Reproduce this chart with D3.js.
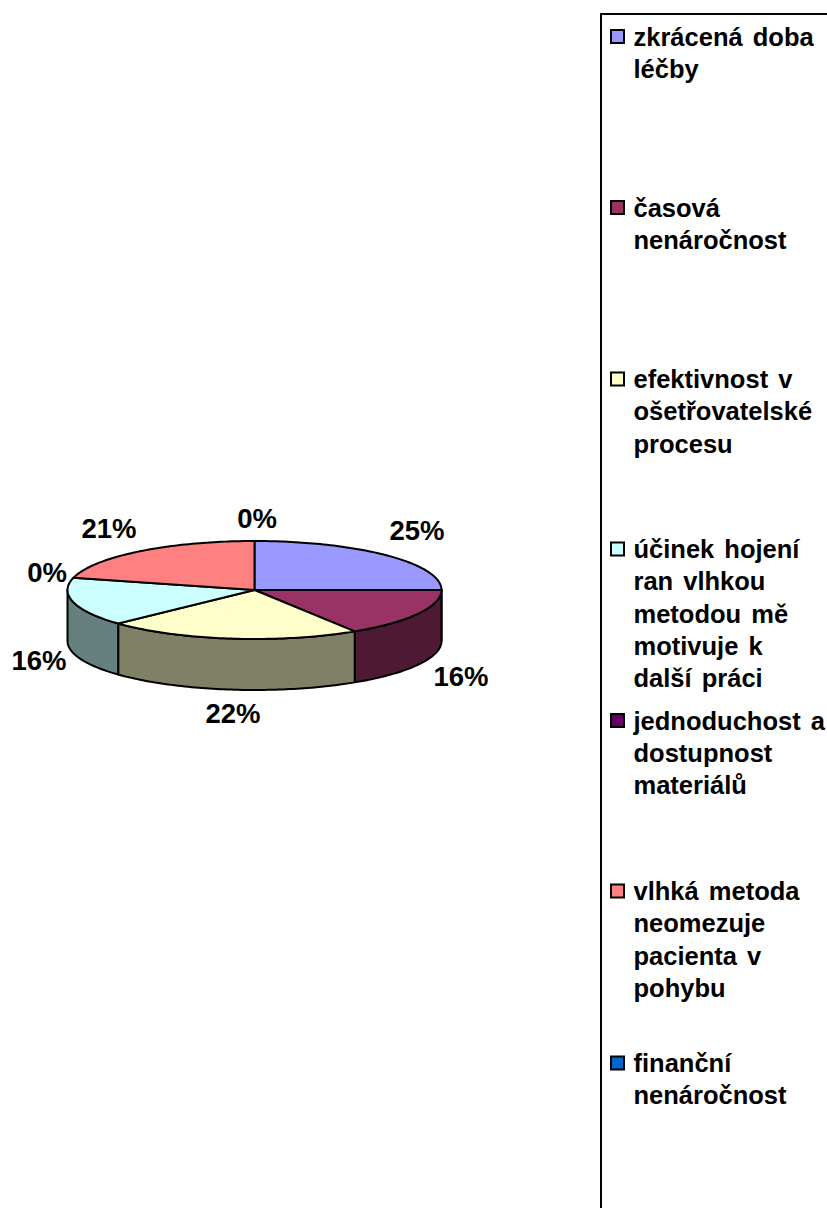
<!DOCTYPE html>
<html>
<head>
<meta charset="utf-8">
<script src="https://cdn.jsdelivr.net/npm/d3@7"></script>
<style>
html,body{margin:0;padding:0;background:#fff}
svg{display:block}
text{font-family:"Liberation Sans",Arial,sans-serif;font-weight:bold;fill:#000}
</style>
</head>
<body>
<svg id="chart" width="827" height="1208"></svg>
<script>
// Survey answers, in legend order
const categories = [
  ["zkrácená doba", "léčby"],
  ["časová", "nenáročnost"],
  ["efektivnost v", "ošetřovatelské", "procesu"],
  ["účinek hojení", "ran vlhkou", "metodou mě", "motivuje k", "další práci"],
  ["jednoduchost a", "dostupnost", "materiálů"],
  ["vlhká metoda", "neomezuje", "pacienta v", "pohybu"],
  ["finanční", "nenáročnost"]
];
const shares = [25, 16, 22, 16, 0, 21, 0];
const topColors = ["#9999ff", "#993366", "#ffffcc", "#ccffff", "#660066", "#ff8080", "#0066cc"];
const sideColors = ["#4d4d80", "#4d1933", "#808066", "#668080", "#330033", "#804040", "#003366"];
const legendCentres = [36.5, 207.5, 379, 549, 720.5, 891, 1063];
const labelAnchors = [[417, 540], [461, 686], [233, 723], [39, 670], [47, 582], [109, 538], [257, 528]];

const svg = d3.select("#chart");
const cx = 254.5, cy = 590, rx = 187, ry = 49, depth = 51;

const slices = d3.pie().sort(null).value(d => d).startAngle(0).endAngle(2 * Math.PI)(shares);

// Ellipse point for a pie angle measured clockwise from twelve o'clock
const sx = d3.scaleLinear().domain([-1, 1]).range([cx - rx, cx + rx]);
const sy = d3.scaleLinear().domain([-1, 1]).range([cy - ry, cy + ry]);
const rim = (a, drop = 0) => [sx(Math.sin(a)), sy(-Math.cos(a)) + drop];
const line = d3.line();

function rimPoints(a0, a1, drop) {
  const n = Math.max(2, Math.ceil(Math.abs(a1 - a0) / 0.02));
  return d3.range(n + 1).map(i => rim(a0 + (a1 - a0) * i / n, drop));
}

const outline = { stroke: "#000", width: 2 };

// Outer wall: only the part of each slice on the front half of the ellipse
const wall = svg.append("g");
slices.forEach(s => {
  const a0 = Math.max(s.startAngle, Math.PI / 2);
  const a1 = Math.min(s.endAngle, 3 * Math.PI / 2);
  if (a1 <= a0) return;
  const pts = rimPoints(a0, a1, 0).concat(rimPoints(a1, a0, depth));
  wall.append("path")
    .attr("d", line(pts) + "Z")
    .attr("fill", sideColors[s.index])
    .attr("stroke", outline.stroke)
    .attr("stroke-width", outline.width)
    .attr("stroke-linejoin", "round");
});

// Top face wedges
const face = svg.append("g");
slices.filter(s => s.value > 0).forEach(s => {
  const pts = [[cx, cy]].concat(rimPoints(s.startAngle, s.endAngle, 0));
  face.append("path")
    .attr("d", line(pts) + "Z")
    .attr("fill", topColors[s.index])
    .attr("stroke", outline.stroke)
    .attr("stroke-width", outline.width)
    .attr("stroke-linejoin", "round");
});

// Percentage labels
svg.append("g").selectAll("text").data(slices).join("text")
  .attr("x", (d, i) => labelAnchors[i][0])
  .attr("y", (d, i) => labelAnchors[i][1])
  .attr("text-anchor", "middle")
  .attr("font-size", 27.5)
  .text(d => d.value + "%");

// Legend frame runs off the right and bottom of the page
svg.append("path")
  .attr("d", line([[601, 1208], [601, 14], [827, 14]]))
  .attr("fill", "none").attr("stroke", "#000").attr("stroke-width", 2);

const legend = svg.append("g").selectAll("g").data(categories).join("g")
  .attr("transform", (d, i) => `translate(0,${legendCentres[i]})`);
legend.append("rect")
  .attr("x", 611).attr("y", -6.5).attr("width", 13).attr("height", 13)
  .attr("fill", (d, i) => topColors[i])
  .attr("stroke", "#000").attr("stroke-width", 2);
legend.selectAll("text").data(d => d).join("text")
  .attr("x", 633.5)
  .attr("y", (d, i) => 9 + i * 32.3)
  .attr("font-size", 25.5)
  .attr("word-spacing", 3)
  .text(d => d);
</script>
</body>
</html>
